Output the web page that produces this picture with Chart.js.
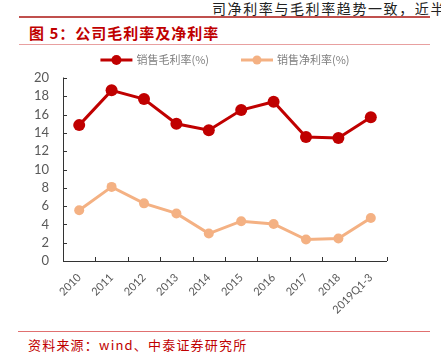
<!DOCTYPE html>
<html>
<head>
<meta charset="utf-8">
<script src="https://cdn.jsdelivr.net/npm/chart.js@4/dist/chart.umd.min.js"></script>
<style>
  body { margin: 0; width: 441px; height: 352px; overflow: hidden; background: #fff; position: relative;
         font-family: "Noto Sans CJK SC", sans-serif; }
  .topText { position: absolute; left: 212px; top: -2px; font-size: 14px; letter-spacing: 1.6px; color: #222; white-space: nowrap; }
  .bar1 { position: absolute; left: 19px; width: 411px; top: 16px; height: 2px; background: #c0504d; }
  .title { position: absolute; left: 29px; top: 22px; font-size: 15px; font-weight: bold; color: #c00000; letter-spacing: 1px; white-space: nowrap; }
  .bar2 { position: absolute; left: 19px; width: 411px; top: 44px; height: 1px; background: #e8a0a0; }
  .bar3 { position: absolute; left: 18px; width: 412px; top: 331px; height: 1px; background: #e07070; }
  .source { position: absolute; left: 28px; top: 335px; font-size: 13px; color: #c00000; letter-spacing: 1.2px; white-space: nowrap; }
  #chartBox { position: absolute; left: 0; top: 48px; width: 441px; height: 282px; }
</style>
</head>
<body>
<div class="topText">司净利率与毛利率趋势一致，近半</div>
<div class="bar1"></div>
<div class="title">图 5：公司毛利率及净利率</div>
<div class="bar2"></div>
<div id="chartBox"><canvas id="chart"></canvas></div>
<div class="bar3"></div>
<div class="source">资料来源：wind、中泰证券研究所</div>
<script>
const years = ['2010', '2011', '2012', '2013', '2014', '2015', '2016', '2017', '2018', '2019Q1-3'];
const grossMargin = [14.85, 18.65, 17.7, 15.0, 14.3, 16.5, 17.4, 13.55, 13.45, 15.7];
const netMargin = [5.55, 8.1, 6.3, 5.2, 3.0, 4.35, 4.05, 2.35, 2.45, 4.7];
const yTicks = [0, 2, 4, 6, 8, 10, 12, 14, 16, 18, 20];

const redColor = '#c00000';
const orangeColor = '#f4b183';

// tick marks drawn inward from the axis lines
const innerTicks = {
  id: 'innerTicks',
  afterDraw(chart) {
    const ctx = chart.ctx;
    const x = chart.scales.x, y = chart.scales.y;
    ctx.save();
    ctx.strokeStyle = '#333';
    ctx.lineWidth = 1;
    ctx.beginPath();
    ctx.moveTo(x.left + 0.5, y.top - 0.5);
    ctx.lineTo(x.left + 0.5, y.bottom + 0.5);
    ctx.lineTo(x.right, y.bottom + 0.5);
    y.ticks.forEach((t, i) => {
      const py = Math.round(y.getPixelForTick(i)) + 0.5;
      ctx.moveTo(x.left, py);
      ctx.lineTo(x.left + 4, py);
    });
    for (let i = 0; i <= years.length; i++) {
      const px = Math.round(x.left + (x.right - x.left) * i / years.length) + 0.5;
      ctx.moveTo(px, y.bottom);
      ctx.lineTo(px, y.bottom - 4);
    }
    ctx.stroke();
    ctx.restore();
  }
};

// legend: short line with a dot, then the label, centred over the plot
const lineLegend = {
  id: 'lineLegend',
  afterDraw(chart) {
    const ctx = chart.ctx;
    const area = chart.chartArea;
    const sets = chart.data.datasets;
    ctx.save();
    ctx.font = '11px "Noto Sans CJK SC"';
    ctx.textBaseline = 'middle';
    const iconW = 32, gapIcon = 4, gapItem = 32;
    const widths = sets.map(ds => ctx.measureText(ds.label).width);
    let total = 0;
    widths.forEach((w, i) => { total += iconW + gapIcon + w + (i < sets.length - 1 ? gapItem : 0); });
    let x = (area.left + area.right) / 2 - total / 2;
    const y = 12;
    sets.forEach((ds, i) => {
      ctx.strokeStyle = ds.borderColor;
      ctx.lineWidth = 3;
      ctx.beginPath();
      ctx.moveTo(x, y); ctx.lineTo(x + iconW, y);
      ctx.stroke();
      ctx.fillStyle = ds.borderColor;
      ctx.beginPath();
      ctx.arc(x + iconW / 2, y, i === 0 ? 5 : 4.5, 0, Math.PI * 2);
      ctx.fill();
      ctx.fillStyle = '#7f7f7f';
      ctx.fillText(ds.label, x + iconW + gapIcon, y);
      x += iconW + gapIcon + widths[i] + gapItem;
    });
    ctx.restore();
  }
};

new Chart(document.getElementById('chart'), {
  type: 'line',
  data: {
    labels: years,
    datasets: [{
      label: '销售毛利率(%)',
      data: grossMargin,
      borderColor: redColor,
      backgroundColor: redColor,
      borderWidth: 3,
      pointBorderWidth: 0,
      pointRadius: 6,
      pointHoverRadius: 6
    }, {
      label: '销售净利率(%)',
      data: netMargin,
      borderColor: orangeColor,
      backgroundColor: orangeColor,
      borderWidth: 3,
      pointBorderWidth: 0,
      pointRadius: 5,
      pointHoverRadius: 5
    }]
  },
  options: {
    responsive: true,
    maintainAspectRatio: false,
    animation: false,
    layout: { padding: { left: 0, right: 54, top: 30, bottom: 0 } },
    scales: {
      x: {
        offset: true,
        grid: { display: false },
        border: { display: false },
        ticks: {
          color: '#595959',
          font: { family: 'Lato', size: 11 },
          maxRotation: 45,
          minRotation: 45,
          autoSkip: false,
          padding: 2
        },
        afterFit(scale) { scale.height = 69; }
      },
      y: {
        min: 0,
        max: 20,
        afterBuildTicks(scale) { scale.ticks = yTicks.map(v => ({ value: v })); },
        grid: { display: false },
        border: { display: false },
        ticks: {
          color: '#595959',
          font: { family: 'Lato', size: 13 },
          autoSkip: false,
          padding: 6
        },
        afterFit(scale) { scale.width = 63; }
      }
    },
    plugins: {
      legend: { display: false },
      tooltip: { enabled: false }
    }
  },
  plugins: [innerTicks, lineLegend]
});
</script>
</body>
</html>
